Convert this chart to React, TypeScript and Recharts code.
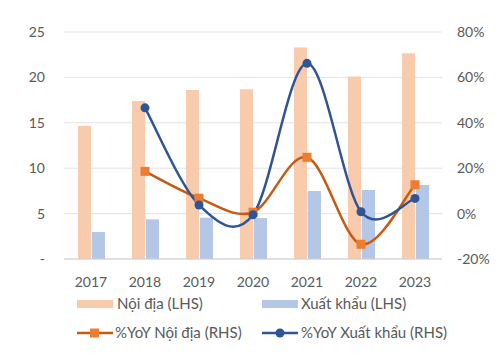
import {
  ComposedChart,
  Bar,
  Line,
  XAxis,
  YAxis,
  CartesianGrid,
  Legend,
} from 'recharts'

const years = ['2017', '2018', '2019', '2020', '2021', '2022', '2023']
const noiDia = [14.65, 17.4, 18.6, 18.7, 23.3, 20.1, 22.65]
const xuatKhau = [2.97, 4.37, 4.55, 4.5, 7.5, 7.6, 8.15]
const yoyNoiDia = [null, 18.6, 6.8, 0.6, 24.8, -13.5, 12.7]
const yoyXuatKhau = [null, 46.6, 3.8, -0.5, 66.2, 0.8, 6.7]
const leftTicks = [0, 5, 10, 15, 20, 25]
const rightTicks = [-20, 0, 20, 40, 60, 80]

const data = years.map((year, i) => ({
  year,
  noiDia: noiDia[i],
  xuatKhau: xuatKhau[i],
  yoyNoiDia: yoyNoiDia[i],
  yoyXuatKhau: yoyXuatKhau[i],
}))

const FONT = 'Lato, "Open Sans", sans-serif'
const TEXT = '#595959'
const PEACH = '#F8CBAD'
const LIGHTBLUE = '#B4C7E7'
const ORANGE_LINE = '#C55A11'
const ORANGE_MARK = '#ED7D31'
const BLUE = '#2F5597'

// Excel-like smoothing: bezier through each point, control points at 1/6
function excelSmooth(context: any) {
  let pts: [number, number][] = []
  return {
    areaStart() {},
    areaEnd() {},
    lineStart() {
      pts = []
    },
    point(x: number, y: number) {
      pts.push([+x, +y])
    },
    lineEnd() {
      if (!pts.length) return
      context.moveTo(pts[0][0], pts[0][1])
      for (let i = 0; i < pts.length - 1; i++) {
        const p0 = pts[i - 1] || pts[i]
        const p1 = pts[i]
        const p2 = pts[i + 1]
        const p3 = pts[i + 2] || p2
        context.bezierCurveTo(
          p1[0] + (p2[0] - p0[0]) / 6,
          p1[1] + (p2[1] - p0[1]) / 6,
          p2[0] - (p3[0] - p1[0]) / 6,
          p2[1] - (p3[1] - p1[1]) / 6,
          p2[0],
          p2[1]
        )
      }
    },
  }
}

function SquareDot(props: any) {
  const { cx, cy, payload } = props
  if (cx == null || cy == null || payload?.yoyNoiDia == null) return null
  return <rect x={cx - 4.5} y={cy - 4.5} width={9} height={9} fill={ORANGE_MARK} />
}

function CircleDot(props: any) {
  const { cx, cy, payload } = props
  if (cx == null || cy == null || payload?.yoyXuatKhau == null) return null
  return <circle cx={cx} cy={cy} r={4.5} fill={BLUE} />
}

function ChartLegend() {
  const txt = { fontFamily: FONT, fontSize: 15, fill: TEXT }
  return (
    <svg width={500} height={60} style={{ display: 'block' }}>
      <rect x={77} y={8} width={36} height={8} fill={PEACH} />
      <text x={117} y={17} {...txt}>Nội địa (LHS)</text>
      <rect x={262} y={8} width={36} height={8} fill={LIGHTBLUE} />
      <text x={301} y={17} {...txt}>Xuất khẩu (LHS)</text>
      <line x1={77} x2={113} y1={41} y2={41} stroke={ORANGE_LINE} strokeWidth={2.5} />
      <rect x={90} y={36.5} width={9} height={9} fill={ORANGE_MARK} />
      <text x={115} y={46} {...txt}>%YoY Nội địa (RHS)</text>
      <line x1={262} x2={298} y1={41} y2={41} stroke={BLUE} strokeWidth={2.5} />
      <circle cx={280} cy={41} r={4.5} fill={BLUE} />
      <text x={301} y={46} {...txt}>%YoY Xuất khẩu (RHS)</text>
    </svg>
  )
}

export default function App() {
  return (
    <div style={{ position: 'absolute', left: 0, top: 0, width: 500, height: 359, background: '#fff' }}>
      <ComposedChart
        width={500}
        height={359}
        data={data}
        margin={{ top: 32, right: 0, left: 0, bottom: 10 }}
        barGap={1}
      >
        <CartesianGrid stroke="#e3e3e3" vertical={false} yAxisId="left" />
        <XAxis
          dataKey="year"
          tickLine={false}
          axisLine={{ stroke: '#d0d0d0' }}
          tick={{ fill: TEXT, fontSize: 14, fontFamily: FONT }}
          tickMargin={12}
          height={30}
        />
        <YAxis
          yAxisId="left"
          domain={[0, 25]}
          ticks={leftTicks}
          tickFormatter={(v) => (v === 0 ? '-' : String(v))}
          axisLine={false}
          tickLine={false}
          tickSize={0}
          tickMargin={19}
          width={64}
          tick={{ fill: TEXT, fontSize: 14, fontFamily: FONT }}
        />
        <YAxis
          yAxisId="right"
          orientation="right"
          domain={[-20, 80]}
          ticks={rightTicks}
          tickFormatter={(v) => `${v}%`}
          axisLine={false}
          tickLine={false}
          tickSize={0}
          tickMargin={15}
          width={58}
          tick={{ fill: TEXT, fontSize: 14, fontFamily: FONT, textAnchor: 'start' }}
        />
        <Legend
          content={() => <ChartLegend />}
          wrapperStyle={{ left: 0, top: 292, width: 500 }}
        />
        <Bar yAxisId="left" dataKey="noiDia" fill={PEACH} barSize={13} isAnimationActive={false} />
        <Bar yAxisId="left" dataKey="xuatKhau" fill={LIGHTBLUE} barSize={13} isAnimationActive={false} />
        <Line
          yAxisId="right"
          dataKey="yoyNoiDia"
          type={excelSmooth as any}
          stroke={ORANGE_LINE}
          strokeWidth={2.5}
          dot={<SquareDot />}
          activeDot={false}
          isAnimationActive={false}
        />
        <Line
          yAxisId="right"
          dataKey="yoyXuatKhau"
          type={excelSmooth as any}
          stroke={BLUE}
          strokeWidth={2.5}
          dot={<CircleDot />}
          activeDot={false}
          isAnimationActive={false}
        />
      </ComposedChart>
    </div>
  )
}
